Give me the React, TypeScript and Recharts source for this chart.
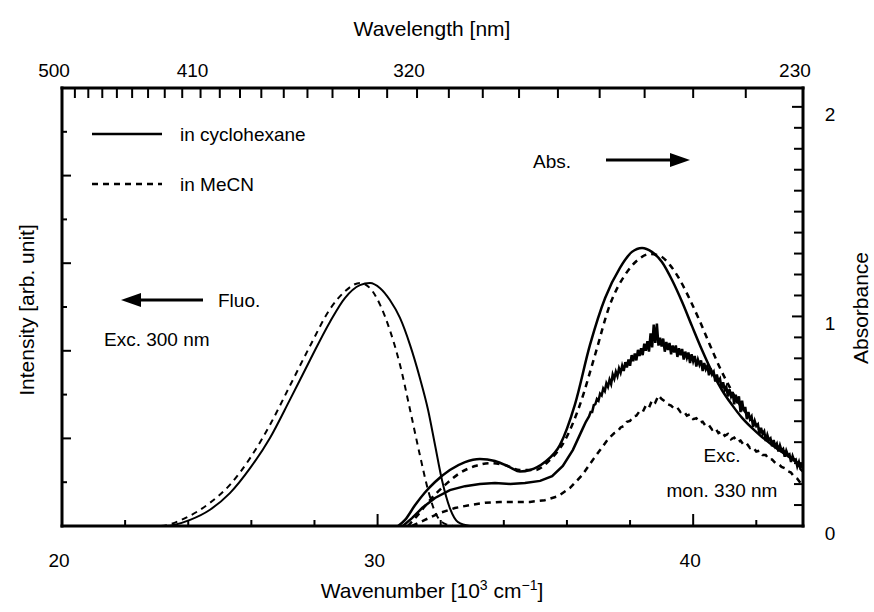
import React from 'react';
import { LineChart, Line, XAxis, YAxis, Customized } from 'recharts';

const FONT = '"Liberation Sans", Arial, Helvetica, sans-serif';
const X_DOMAIN: [number, number] = [20, 43.48];
const INT_DOMAIN: [number, number] = [0, 10];
const ABS_DOMAIN: [number, number] = [0, 2.09];

// wavenumber [10^3 cm^-1] ticks
const bottomTicks = [20, 22, 24, 26, 28, 30, 32, 34, 36, 38, 40, 42];
const bottomLabels = [20, 30, 40];
// wavelength ticks (nm), every 10 nm
const wavelengthTicks = [500, 490, 480, 470, 460, 450, 440, 430, 420, 410, 400, 390, 380, 370, 360, 350, 340, 330, 320, 310, 300, 290, 280, 270, 260, 250, 240, 230];
const wavelengthLabels = [500, 410, 320, 230];
const intensityTicks = [0, 1, 2, 3, 4, 5, 6, 7, 8, 9, 10];
const absTicks = [0, 0.1, 0.2, 0.3, 0.4, 0.5, 0.6, 0.7, 0.8, 0.9, 1, 1.1, 1.2, 1.3, 1.4, 1.5, 1.6, 1.7, 1.8, 1.9, 2];
const absLabels = [0, 1, 2];

// Fluorescence (Exc. 300 nm), intensity
const fluoCyclohexane: [number, number][] = [
  [20, 0], [22.5, 0], [23.26, 0], [24.06, 0.14], [24.69, 0.37], [25.32, 0.75], [25.96, 1.32], [26.59, 2.01],
  [27.22, 2.88], [27.86, 3.79], [28.49, 4.66], [28.97, 5.21], [29.44, 5.5], [29.76, 5.55], [30.08, 5.43],
  [30.39, 5.16], [30.71, 4.75], [31.03, 4.13], [31.34, 3.38], [31.6, 2.65], [31.82, 1.85], [32.04, 1.05],
  [32.29, 0.41], [32.55, 0.09], [32.93, 0],
];
const fluoMeCN: [number, number][] = [
  [20, 0], [22.4, 0], [23.1, 0], [23.9, 0.18], [24.69, 0.53], [25.32, 0.94], [25.96, 1.55], [26.59, 2.31],
  [27.22, 3.2], [27.86, 4.11], [28.49, 4.95], [28.97, 5.36], [29.44, 5.55], [29.76, 5.43], [30.08, 5.05],
  [30.39, 4.47], [30.71, 3.68], [31.03, 2.65], [31.34, 1.62], [31.6, 0.82], [31.82, 0.32], [32.14, 0.05], [32.45, 0],
];

// Absorption, absorbance
const absCyclohexane: [number, number][] = [
  [30.65, 0], [30.87, 0.029], [31.19, 0.1], [31.5, 0.16], [31.82, 0.21], [32.29, 0.267], [32.77, 0.305],
  [33.24, 0.32], [33.72, 0.31], [34.2, 0.28], [34.51, 0.26], [34.83, 0.267], [35.3, 0.305], [35.78, 0.387],
  [36.25, 0.578], [36.73, 0.864], [37.21, 1.088], [37.68, 1.232], [38.06, 1.308], [38.38, 1.327], [38.69, 1.308],
  [39.01, 1.26], [39.33, 1.174], [39.65, 1.069], [39.96, 0.955], [40.28, 0.84], [40.6, 0.735], [40.91, 0.649],
  [41.23, 0.578], [41.55, 0.516], [41.86, 0.468], [42.18, 0.425], [42.5, 0.387], [42.81, 0.353], [43.13, 0.32],
  [43.48, 0.286],
];
const absMeCN: [number, number][] = [
  [30.96, 0], [31.28, 0.053], [31.66, 0.124], [32.14, 0.196], [32.61, 0.253], [33.09, 0.286], [33.56, 0.3],
  [34.04, 0.291], [34.51, 0.267], [34.99, 0.267], [35.46, 0.315], [35.94, 0.41], [36.41, 0.578], [36.89, 0.816],
  [37.36, 1.055], [37.84, 1.198], [38.25, 1.27], [38.63, 1.298], [38.95, 1.289], [39.26, 1.246], [39.58, 1.174],
  [39.9, 1.079], [40.22, 0.974], [40.53, 0.864], [40.85, 0.754], [41.17, 0.659], [41.48, 0.578], [41.8, 0.516],
  [42.12, 0.458], [42.43, 0.41], [42.75, 0.372], [43.07, 0.334], [43.48, 0.277],
];

// Excitation spectra (mon. 330 nm), intensity
const excCyclohexane: [number, number][] = [
  [30.8, 0], [31.09, 0.18], [31.41, 0.41], [31.82, 0.64], [32.29, 0.82], [32.77, 0.91], [33.24, 0.96],
  [33.72, 0.98], [34.2, 0.96], [34.67, 0.98], [35.15, 1.03], [35.53, 1.14], [35.87, 1.37], [36.19, 1.74],
  [36.51, 2.24], [36.6, 2.38], [36.65, 2.44], [36.7, 2.5], [36.75, 2.6], [36.8, 2.6], [36.85, 2.76], [36.9, 2.78],
  [36.95, 2.9], [37.0, 2.86], [37.05, 3.02], [37.1, 2.98], [37.15, 3.14], [37.2, 3.08], [37.25, 3.26], [37.3, 3.18],
  [37.35, 3.34], [37.4, 3.24], [37.45, 3.46], [37.5, 3.36], [37.55, 3.52], [37.6, 3.42], [37.65, 3.6], [37.7, 3.5],
  [37.75, 3.66], [37.8, 3.54], [37.85, 3.74], [37.9, 3.62], [37.95, 3.8], [38.0, 3.66], [38.05, 3.9], [38.1, 3.76],
  [38.15, 3.94], [38.2, 3.78], [38.25, 4.02], [38.3, 3.88], [38.35, 4.06], [38.4, 3.9], [38.45, 4.16], [38.5, 4.0],
  [38.55, 4.22], [38.6, 3.98], [38.65, 4.4], [38.7, 4.08], [38.75, 4.6], [38.8, 4.18], [38.85, 4.62], [38.9, 4.12],
  [38.95, 4.3], [39.0, 4.1], [39.05, 4.28], [39.1, 3.98], [39.15, 4.2], [39.2, 4.02], [39.25, 4.18], [39.3, 3.92],
  [39.35, 4.12], [39.4, 3.96], [39.45, 4.12], [39.5, 3.86], [39.55, 4.06], [39.6, 3.9], [39.65, 4.04], [39.7, 3.8],
  [39.75, 3.98], [39.8, 3.84], [39.85, 3.96], [39.9, 3.72], [39.95, 3.92], [40.0, 3.76], [40.05, 3.88], [40.1, 3.64],
  [40.15, 3.8], [40.2, 3.68], [40.25, 3.78], [40.3, 3.54], [40.35, 3.72], [40.4, 3.58], [40.45, 3.66], [40.5, 3.44],
  [40.55, 3.6], [40.6, 3.46], [40.65, 3.52], [40.7, 3.3], [40.75, 3.46], [40.8, 3.3], [40.85, 3.36], [40.9, 3.14],
  [40.95, 3.28], [41.0, 3.1], [41.05, 3.18], [41.1, 2.96], [41.15, 3.12], [41.2, 2.96], [41.25, 3.06], [41.3, 2.78],
  [41.35, 3.0], [41.4, 2.8], [41.45, 2.96], [41.5, 2.6], [41.55, 2.86], [41.6, 2.62], [41.65, 2.72], [41.7, 2.44],
  [41.75, 2.6], [41.8, 2.44], [41.85, 2.5], [41.9, 2.26], [41.95, 2.4], [42.0, 2.28], [42.05, 2.32], [42.1, 2.1],
  [42.15, 2.24], [42.2, 2.1], [42.25, 2.16], [42.3, 1.94], [42.35, 2.08], [42.4, 1.96], [42.45, 2.0], [42.5, 1.82],
  [42.55, 1.96], [42.6, 1.82], [42.65, 1.88], [42.7, 1.7], [42.75, 1.84], [42.8, 1.72], [42.85, 1.76], [42.9, 1.58],
  [42.95, 1.72], [43.0, 1.62], [43.05, 1.64], [43.1, 1.46], [43.15, 1.6], [43.2, 1.5], [43.25, 1.52], [43.3, 1.36],
  [43.35, 1.46], [43.4, 1.3], [43.48, 1.24],
];
const excMeCN: [number, number][] = [
  [31.09, 0], [31.5, 0.14], [31.98, 0.3], [32.45, 0.41], [32.93, 0.48], [33.4, 0.53], [33.88, 0.55],
  [34.35, 0.55], [34.83, 0.55], [35.3, 0.59], [35.72, 0.68], [36.1, 0.87], [36.48, 1.16], [36.86, 1.55],
  [37.3, 1.98], [37.4, 2.05], [37.5, 2.12], [37.6, 2.15], [37.7, 2.25], [37.8, 2.28], [37.9, 2.38], [38.0, 2.4],
  [38.1, 2.5], [38.2, 2.52], [38.3, 2.62], [38.4, 2.6], [38.5, 2.75], [38.6, 2.7], [38.7, 2.88], [38.8, 2.82],
  [38.9, 2.98], [39.0, 2.9], [39.1, 2.85], [39.2, 2.78], [39.3, 2.75], [39.4, 2.68], [39.5, 2.7], [39.6, 2.6],
  [39.7, 2.62], [39.8, 2.52], [39.9, 2.55], [40.0, 2.44], [40.1, 2.46], [40.2, 2.36], [40.3, 2.38], [40.4, 2.28],
  [40.5, 2.3], [40.6, 2.2], [40.7, 2.24], [40.8, 2.12], [40.9, 2.16], [41.0, 2.06], [41.1, 2.1], [41.2, 1.98],
  [41.3, 2.02], [41.4, 1.92], [41.5, 1.95], [41.6, 1.85], [41.7, 1.88], [41.8, 1.78], [41.9, 1.8], [42.0, 1.7],
  [42.1, 1.72], [42.2, 1.62], [42.3, 1.62], [42.4, 1.52], [42.5, 1.52], [42.6, 1.44], [42.7, 1.42], [42.8, 1.35],
  [42.9, 1.32], [43.0, 1.25], [43.1, 1.22], [43.2, 1.12], [43.3, 1.08], [43.4, 0.98], [43.48, 0.92],
];

const toPts = (a: [number, number][]) => a.map(([w, v]) => ({ w, v }));

const BottomTick = (props: any) => {
  const { x, y, payload } = props;
  const v = payload.value;
  const major = v % 10 === 0;
  return (
    <g>
      {v > X_DOMAIN[0] && <line x1={x} x2={x} y1={y} y2={y - (major ? 12 : 6)} stroke="#000" strokeWidth={2} />}
      {bottomLabels.includes(v) && (
        <text x={x - 3} y={y + 41} textAnchor="middle" fontSize={19} fontFamily={FONT} fill="#000">{v}</text>
      )}
    </g>
  );
};

const TopTick = (props: any) => {
  const { x, y, payload } = props;
  const nm = Math.round(10000 / payload.value);
  return (
    <g>
      {nm !== 500 && nm !== 230 && <line x1={x} x2={x} y1={y} y2={y + 10} stroke="#000" strokeWidth={2} />}
      {wavelengthLabels.includes(nm) && (
        <text x={x - 8} y={y - 11} textAnchor="middle" fontSize={19} fontFamily={FONT} fill="#000">{nm}</text>
      )}
    </g>
  );
};

const LeftTick = (props: any) => {
  const { x, y, payload } = props;
  const v = payload.value;
  if (v === 0 || v === 10) return <g />;
  return <line x1={x} x2={x + (v % 2 === 0 ? 9 : 5)} y1={y} y2={y} stroke="#000" strokeWidth={2} />;
};

const RightTick = (props: any) => {
  const { x, y, payload } = props;
  const v = Math.round(payload.value * 10) / 10;
  return (
    <g>
      {v > 0 && <line x1={x} x2={x - (Number.isInteger(v) ? 11 : 9)} y1={y} y2={y} stroke="#000" strokeWidth={2} />}
      {absLabels.includes(v) && (
        <text x={x + 27} y={y + 14} textAnchor="middle" fontSize={19} fontFamily={FONT} fill="#000">{v}</text>
      )}
    </g>
  );
};

const Annotations = () => (
  <g fontFamily={FONT} fill="#000">
    <text x={432} y={36} textAnchor="middle" fontSize={21}>Wavelength [nm]</text>
    <text x={432} y={598} textAnchor="middle" fontSize={21}>
      Wavenumber [10<tspan dy={-8} fontSize={14}>3</tspan><tspan dy={8}> cm</tspan><tspan dy={-8} fontSize={14}>−1</tspan><tspan dy={8}>]</tspan>
    </text>
    <text x={0} y={0} transform="translate(34,310) rotate(-90)" textAnchor="middle" fontSize={21}>Intensity [arb. unit]</text>
    <text x={0} y={0} transform="translate(868,308) rotate(-90)" textAnchor="middle" fontSize={21}>Absorbance</text>

    <line x1={92} x2={162} y1={134} y2={134} stroke="#000" strokeWidth={2.5} />
    <text x={180} y={141} fontSize={19}>in cyclohexane</text>
    <line x1={92} x2={162} y1={184} y2={184} stroke="#000" strokeWidth={2.5} strokeDasharray="6 5" />
    <text x={180} y={191} fontSize={19}>in MeCN</text>

    <text x={533} y={168} fontSize={19}>Abs.</text>
    <line x1={606} x2={672} y1={160} y2={160} stroke="#000" strokeWidth={3} />
    <polygon points="670,153 690,160 670,167" fill="#000" />

    <polygon points="121,300 141,293 141,307" fill="#000" />
    <line x1={139} x2={203} y1={300} y2={300} stroke="#000" strokeWidth={3} />
    <text x={218} y={307} fontSize={19}>Fluo.</text>
    <text x={104} y={346} fontSize={19}>Exc. 300 nm</text>

    <text x={722} y={462} textAnchor="middle" fontSize={19}>Exc.</text>
    <text x={722} y={497} textAnchor="middle" fontSize={19}>mon. 330 nm</text>
  </g>
);

export default function App() {
  const axisLine = { stroke: '#000', strokeWidth: 3, strokeLinecap: 'square' as const };
  return (
    <div style={{ position: 'absolute', left: 0, top: 0, background: '#fff' }}>
      <LineChart width={874} height={612} margin={{ top: 68, right: 51, bottom: 66, left: 42 }}>
        <XAxis xAxisId="bottom" dataKey="w" type="number" domain={X_DOMAIN} allowDataOverflow ticks={bottomTicks}
          interval={0} height={20} tickSize={0} tickMargin={0} tickLine={false} axisLine={axisLine} tick={<BottomTick />} />
        <XAxis xAxisId="top" orientation="top" dataKey="w" type="number" domain={X_DOMAIN} allowDataOverflow
          ticks={wavelengthTicks.map((nm) => 10000 / nm)} interval={0} height={20} tickSize={0} tickMargin={0}
          tickLine={false} axisLine={axisLine} tick={<TopTick />} />
        <YAxis yAxisId="int" type="number" domain={INT_DOMAIN} allowDataOverflow ticks={intensityTicks} interval={0}
          width={20} tickSize={0} tickMargin={0} tickLine={false} axisLine={axisLine} tick={<LeftTick />} />
        <YAxis yAxisId="abs" orientation="right" type="number" domain={ABS_DOMAIN} allowDataOverflow ticks={absTicks}
          interval={0} width={20} tickSize={0} tickMargin={0} tickLine={false} axisLine={axisLine} tick={<RightTick />} />

        <Line xAxisId="bottom" yAxisId="int" data={toPts(fluoCyclohexane)} dataKey="v" type="monotone" stroke="#000"
          strokeWidth={2} dot={false} isAnimationActive={false} />
        <Line xAxisId="bottom" yAxisId="int" data={toPts(fluoMeCN)} dataKey="v" type="monotone" stroke="#000"
          strokeWidth={2} strokeDasharray="6 5" dot={false} isAnimationActive={false} />
        <Line xAxisId="bottom" yAxisId="abs" data={toPts(absCyclohexane)} dataKey="v" type="monotone" stroke="#000"
          strokeWidth={2.5} dot={false} isAnimationActive={false} />
        <Line xAxisId="bottom" yAxisId="abs" data={toPts(absMeCN)} dataKey="v" type="monotone" stroke="#000"
          strokeWidth={2.5} strokeDasharray="6 5" dot={false} isAnimationActive={false} />
        <Line xAxisId="bottom" yAxisId="int" data={toPts(excCyclohexane)} dataKey="v" type="linear" stroke="#000"
          strokeWidth={2.5} dot={false} isAnimationActive={false} />
        <Line xAxisId="bottom" yAxisId="int" data={toPts(excMeCN)} dataKey="v" type="linear" stroke="#000"
          strokeWidth={2.5} strokeDasharray="6 5" dot={false} isAnimationActive={false} />
        <Customized component={Annotations} />
      </LineChart>
    </div>
  );
}
